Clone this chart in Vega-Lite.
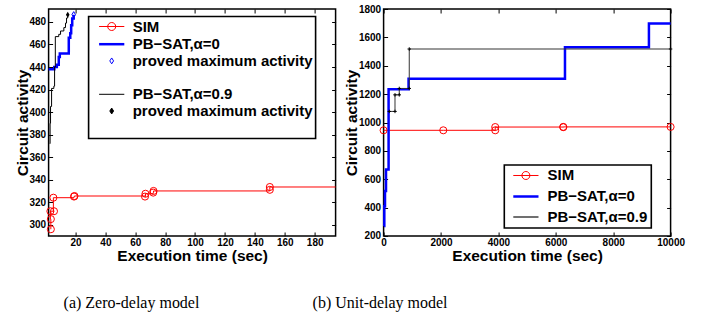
{
  "$schema": "https://vega.github.io/schema/vega-lite/v6.json",
  "background": "white",
  "padding": {"left": 14.6, "top": 3, "right": 0, "bottom": 0},
  "spacing": -27,
  "data": {"values": [
    {"p":"a","s":"SIM","i":1,"t":3.5,"v":296,"mk":1},
    {"p":"a","s":"SIM","i":2,"t":3.5,"v":305,"mk":1},
    {"p":"a","s":"SIM","i":3,"t":3.2,"v":312,"mk":1},
    {"p":"a","s":"SIM","i":4,"t":5.6,"v":312,"mk":1},
    {"p":"a","s":"SIM","i":5,"t":5.2,"v":324,"mk":1},
    {"p":"a","s":"SIM","i":6,"t":19,"v":325,"mk":1},
    {"p":"a","s":"SIM","i":7,"t":19.3,"v":325.5,"mk":1},
    {"p":"a","s":"SIM","i":8,"t":66.5,"v":325,"mk":1},
    {"p":"a","s":"SIM","i":9,"t":66.8,"v":327.5,"mk":1},
    {"p":"a","s":"SIM","i":10,"t":72,"v":328.5,"mk":1},
    {"p":"a","s":"SIM","i":11,"t":72.2,"v":330,"mk":1},
    {"p":"a","s":"SIM","i":12,"t":150,"v":331,"mk":1},
    {"p":"a","s":"SIM","i":13,"t":150,"v":333.5,"mk":1},
    {"p":"a","s":"SIM","i":14,"t":194,"v":333.5,"mk":0},
    {"p":"a","s":"PB0","i":1,"t":2,"v":438,"mk":0},
    {"p":"a","s":"PB0","i":2,"t":5.8,"v":440,"mk":0},
    {"p":"a","s":"PB0","i":3,"t":7.5,"v":442,"mk":0},
    {"p":"a","s":"PB0","i":4,"t":8.8,"v":449,"mk":0},
    {"p":"a","s":"PB0","i":5,"t":9.5,"v":452,"mk":0},
    {"p":"a","s":"PB0","i":6,"t":15.5,"v":466,"mk":0},
    {"p":"a","s":"PB0","i":7,"t":16.5,"v":470,"mk":0},
    {"p":"a","s":"PB0","i":8,"t":17.1,"v":477,"mk":0},
    {"p":"a","s":"PB0","i":9,"t":17.8,"v":483,"mk":0},
    {"p":"a","s":"PB0","i":10,"t":18.8,"v":486.5,"mk":0},
    {"p":"a","s":"PM0","i":1,"t":18.8,"v":486.5,"mk":1},
    {"p":"a","s":"PB9","i":1,"t":2.8,"v":372,"mk":0},
    {"p":"a","s":"PB9","i":2,"t":3.0,"v":390,"mk":0},
    {"p":"a","s":"PB9","i":3,"t":3.3,"v":405,"mk":0},
    {"p":"a","s":"PB9","i":4,"t":4.0,"v":421,"mk":0},
    {"p":"a","s":"PB9","i":5,"t":5.5,"v":423,"mk":0},
    {"p":"a","s":"PB9","i":6,"t":6.0,"v":440,"mk":0},
    {"p":"a","s":"PB9","i":7,"t":6.5,"v":467,"mk":0},
    {"p":"a","s":"PB9","i":8,"t":8.8,"v":469,"mk":0},
    {"p":"a","s":"PB9","i":9,"t":10,"v":472,"mk":0},
    {"p":"a","s":"PB9","i":10,"t":12.2,"v":475,"mk":0},
    {"p":"a","s":"PB9","i":11,"t":13.3,"v":479,"mk":0},
    {"p":"a","s":"PB9","i":12,"t":14.0,"v":483.5,"mk":0},
    {"p":"a","s":"PB9","i":13,"t":14.8,"v":486.5,"mk":0},
    {"p":"a","s":"PM9","i":1,"t":14.8,"v":486.5,"mk":1},
    {"p":"b","s":"SIM","i":1,"t":0,"v":945,"mk":1},
    {"p":"b","s":"SIM","i":2,"t":2080,"v":945,"mk":1},
    {"p":"b","s":"SIM","i":3,"t":3890,"v":945,"mk":1},
    {"p":"b","s":"SIM","i":4,"t":3890,"v":968,"mk":1},
    {"p":"b","s":"SIM","i":5,"t":6260,"v":967,"mk":1},
    {"p":"b","s":"SIM","i":6,"t":6260,"v":969,"mk":1},
    {"p":"b","s":"SIM","i":7,"t":10000,"v":969,"mk":1},
    {"p":"b","s":"PB0","i":1,"t":10,"v":270,"mk":0},
    {"p":"b","s":"PB0","i":2,"t":25,"v":410,"mk":0},
    {"p":"b","s":"PB0","i":3,"t":49,"v":517,"mk":0},
    {"p":"b","s":"PB0","i":4,"t":84,"v":669,"mk":0},
    {"p":"b","s":"PB0","i":5,"t":174,"v":1234,"mk":0},
    {"p":"b","s":"PB0","i":6,"t":870,"v":1308,"mk":0},
    {"p":"b","s":"PB0","i":7,"t":6320,"v":1530,"mk":0},
    {"p":"b","s":"PB0","i":8,"t":9245,"v":1697,"mk":0},
    {"p":"b","s":"PB0","i":9,"t":10000,"v":1697,"mk":0},
    {"p":"b","s":"PB9","i":1,"t":198,"v":1078,"mk":1},
    {"p":"b","s":"PB9","i":2,"t":397,"v":1078,"mk":1},
    {"p":"b","s":"PB9","i":3,"t":397,"v":1195,"mk":1},
    {"p":"b","s":"PB9","i":4,"t":546,"v":1195,"mk":1},
    {"p":"b","s":"PB9","i":5,"t":546,"v":1240,"mk":1},
    {"p":"b","s":"PB9","i":6,"t":894,"v":1240,"mk":1},
    {"p":"b","s":"PB9","i":7,"t":894,"v":1518,"mk":1},
    {"p":"b","s":"PB9","i":8,"t":10000,"v":1518,"mk":1}
  ]},
  "hconcat": [
    {
      "width": 287,
      "height": 227,
      "title": {"text": "(a) Zero-delay model", "orient": "bottom", "anchor": "start", "frame": "group", "dx": 15, "offset": 31, "font": "Liberation Serif", "fontSize": 16, "fontWeight": "normal", "color": "#000"},
      "resolve": {"axis": {"x": "independent", "y": "independent"}},
      "layer": [
        {
          "transform": [{"filter": "datum.p === 'a' && datum.s === 'SIM'"}],
          "mark": {"type": "line", "color": "#ff0000", "strokeWidth": 1, "interpolate": "step-after"},
          "encoding": {
            "x": {"field": "t", "type": "quantitative", "scale": {"domain": [2, 194], "nice": false, "zero": false},
                  "axis": {"orient": "bottom", "values": [20,40,60,80,100,120,140,160,180], "format": "d", "title": "Execution time (sec)", "labelPadding": 5.5, "titlePadding": 1}},
            "y": {"field": "v", "type": "quantitative", "scale": {"domain": [290, 491.5], "nice": false, "zero": false},
                  "axis": {"orient": "left", "values": [300,320,340,360,380,400,420,440,460,480], "format": "d", "title": "Circuit activity"}},
            "order": {"field": "i"}
          }
        },
        {
          "transform": [{"filter": "datum.p === 'a' && datum.s === 'SIM' && datum.mk === 1"}],
          "mark": {"type": "point", "shape": "circle", "size": 50, "color": "#ff0000", "strokeWidth": 1, "filled": false, "opacity": 1},
          "encoding": {
            "x": {"field": "t", "type": "quantitative", "axis": null},
            "y": {"field": "v", "type": "quantitative", "axis": null}
          }
        },
        {
          "transform": [{"filter": "datum.p === 'a' && datum.s === 'PB0'"}],
          "mark": {"type": "line", "color": "#0000ff", "strokeWidth": 2.5, "interpolate": "step-after"},
          "encoding": {
            "x": {"field": "t", "type": "quantitative", "axis": {"orient": "top", "values": [20,40,60,80,100,120,140,160,180], "labels": false, "title": null}},
            "y": {"field": "v", "type": "quantitative", "axis": {"orient": "right", "values": [300,320,340,360,380,400,420,440,460,480], "labels": false, "title": null}},
            "order": {"field": "i"}
          }
        },
        {
          "transform": [{"filter": "datum.p === 'a' && datum.s === 'PM0'"}],
          "mark": {"type": "point", "shape": "M0,-1L0.6,0L0,1L-0.6,0Z", "size": 36, "color": "#0000ff", "strokeWidth": 1, "filled": false, "opacity": 1},
          "encoding": {
            "x": {"field": "t", "type": "quantitative", "axis": null},
            "y": {"field": "v", "type": "quantitative", "axis": null}
          }
        },
        {
          "transform": [{"filter": "datum.p === 'a' && datum.s === 'PB9'"}],
          "mark": {"type": "line", "color": "#000000", "strokeWidth": 1, "interpolate": "step-after"},
          "encoding": {
            "x": {"field": "t", "type": "quantitative", "axis": null},
            "y": {"field": "v", "type": "quantitative", "axis": null},
            "order": {"field": "i"}
          }
        },
        {
          "transform": [{"filter": "datum.p === 'a' && datum.s === 'PM9'"}],
          "mark": {"type": "point", "shape": "M0,-1L0.6,0L0,1L-0.6,0Z", "size": 36, "color": "#000000", "strokeWidth": 1, "filled": true, "opacity": 1},
          "encoding": {
            "x": {"field": "t", "type": "quantitative", "axis": null},
            "y": {"field": "v", "type": "quantitative", "axis": null}
          }
        },
        {
          "transform": [{"filter": "false"}],
          "mark": {"type": "point", "opacity": 1, "size": 196},
          "encoding": {
            "shape": {"field": "s", "type": "nominal",
              "scale": {"domain": ["SIM","PB0","PM0","GAP","PB9","PM9","END"],
                        "range": ["M-1,0H2.6M0.23,0A0.57,0.57,0,1,1,1.37,0A0.57,0.57,0,1,1,0.23,0","M-1,0H2.6","M0.8,-0.42L1.07,0L0.8,0.42L0.53,0Z","M0,0","M-1,0H2.6","M0.8,-0.42L1.07,0L0.8,0.42L0.53,0Z","M0,0"]},
              "legend": {"title": null, "orient": "none", "legendX": 40, "legendY": 7.5, "padding": 2.5, "rowPadding": 0.7, "symbolOffset": 6.5, "labelOffset": 18.1, "symbolSize": 196,
                         "encoding": {"legend": {"strokeWidth": {"value": 1.6}}},
                         "labelExpr": "{'SIM':'SIM','PB0':'PB−SAT,α=0','PM0':'proved maximum activity','GAP':' ','PB9':'PB−SAT,α=0.9','PM9':'proved maximum activity','END':''}[datum.label]"}},
            "stroke": {"field": "s", "type": "nominal",
              "scale": {"domain": ["SIM","PB0","PM0","GAP","PB9","PM9","END"], "range": ["#ff0000","#0000ff","#0000ff","transparent","#000000","#000000","transparent"]},
              "legend": {"title": null, "orient": "none", "legendX": 40, "legendY": 7.5, "padding": 2.5, "rowPadding": 0.7, "symbolOffset": 6.5, "labelOffset": 18.1, "symbolSize": 196,
                         "encoding": {"legend": {"strokeWidth": {"value": 1.6}}},
                         "labelExpr": "{'SIM':'SIM','PB0':'PB−SAT,α=0','PM0':'proved maximum activity','GAP':' ','PB9':'PB−SAT,α=0.9','PM9':'proved maximum activity','END':''}[datum.label]"}},
            "fill": {"field": "s", "type": "nominal",
              "scale": {"domain": ["SIM","PB0","PM0","GAP","PB9","PM9","END"], "range": ["transparent","transparent","transparent","transparent","transparent","#000000","transparent"]},
              "legend": {"title": null, "orient": "none", "legendX": 40, "legendY": 7.5, "padding": 2.5, "rowPadding": 0.7, "symbolOffset": 6.5, "labelOffset": 18.1, "symbolSize": 196,
                         "encoding": {"legend": {"strokeWidth": {"value": 1.6}}},
                         "labelExpr": "{'SIM':'SIM','PB0':'PB−SAT,α=0','PM0':'proved maximum activity','GAP':' ','PB9':'PB−SAT,α=0.9','PM9':'proved maximum activity','END':''}[datum.label]"}},
            "strokeWidth": {"field": "s", "type": "nominal",
              "scale": {"type": "ordinal", "domain": ["SIM","PB0","PM0","GAP","PB9","PM9","END"], "range": [1,2.5,1,0,1,1,0]},
              "legend": {"title": null, "orient": "none", "legendX": 40, "legendY": 7.5, "padding": 2.5, "rowPadding": 0.7, "symbolOffset": 6.5, "labelOffset": 18.1, "symbolSize": 196,
                         "encoding": {"legend": {"strokeWidth": {"value": 1.6}}},
                         "labelExpr": "{'SIM':'SIM','PB0':'PB−SAT,α=0','PM0':'proved maximum activity','GAP':' ','PB9':'PB−SAT,α=0.9','PM9':'proved maximum activity','END':''}[datum.label]"}}
          }
        }
      ]
    },
    {
      "width": 287,
      "height": 227,
      "title": {"text": "(b) Unit-delay model", "orient": "bottom", "anchor": "start", "frame": "group", "dx": -71, "offset": 31, "font": "Liberation Serif", "fontSize": 16, "fontWeight": "normal", "color": "#000"},
      "resolve": {"axis": {"x": "independent", "y": "independent"}},
      "layer": [
        {
          "transform": [{"filter": "datum.p === 'b' && datum.s === 'SIM'"}],
          "mark": {"type": "line", "color": "#ff0000", "strokeWidth": 1, "interpolate": "step-after"},
          "encoding": {
            "x": {"field": "t", "type": "quantitative", "scale": {"domain": [0, 10000], "nice": false, "zero": false},
                  "axis": {"orient": "bottom", "values": [0,2000,4000,6000,8000,10000], "format": "d", "title": "Execution time (sec)", "labelPadding": 5.5, "titlePadding": 1}},
            "y": {"field": "v", "type": "quantitative", "scale": {"domain": [200, 1800], "nice": false, "zero": false},
                  "axis": {"orient": "left", "values": [200,400,600,800,1000,1200,1400,1600,1800], "format": "d", "title": "Circuit activity"}},
            "order": {"field": "i"}
          }
        },
        {
          "transform": [{"filter": "datum.p === 'b' && datum.s === 'SIM' && datum.mk === 1"}],
          "mark": {"type": "point", "shape": "circle", "size": 50, "color": "#ff0000", "strokeWidth": 1, "filled": false, "opacity": 1},
          "encoding": {
            "x": {"field": "t", "type": "quantitative", "axis": null},
            "y": {"field": "v", "type": "quantitative", "axis": null}
          }
        },
        {
          "transform": [{"filter": "datum.p === 'b' && datum.s === 'PB0'"}],
          "mark": {"type": "line", "color": "#0000ff", "strokeWidth": 2.5, "interpolate": "step-after"},
          "encoding": {
            "x": {"field": "t", "type": "quantitative", "axis": {"orient": "top", "values": [0,2000,4000,6000,8000,10000], "labels": false, "title": null}},
            "y": {"field": "v", "type": "quantitative", "axis": {"orient": "right", "values": [200,400,600,800,1000,1200,1400,1600,1800], "labels": false, "title": null}},
            "order": {"field": "i"}
          }
        },
        {
          "transform": [{"filter": "datum.p === 'b' && datum.s === 'PB9'"}],
          "mark": {"type": "line", "color": "#333333", "strokeWidth": 1, "interpolate": "linear"},
          "encoding": {
            "x": {"field": "t", "type": "quantitative", "axis": null},
            "y": {"field": "v", "type": "quantitative", "axis": null},
            "order": {"field": "i"}
          }
        },
        {
          "transform": [{"filter": "datum.p === 'b' && datum.s === 'PB9' && datum.mk === 1"}],
          "mark": {"type": "point", "shape": "M-1,0H1M0,-1V1", "size": 12, "color": "#000000", "strokeWidth": 1, "filled": false, "opacity": 1},
          "encoding": {
            "x": {"field": "t", "type": "quantitative", "axis": null},
            "y": {"field": "v", "type": "quantitative", "axis": null}
          }
        },
        {
          "transform": [{"filter": "false"}],
          "mark": {"type": "point", "opacity": 1, "size": 196},
          "encoding": {
            "shape": {"field": "s", "type": "nominal",
              "scale": {"domain": ["SIM","PB0","PB9"],
                        "range": ["M-1,0H2.6M0.23,0A0.57,0.57,0,1,1,1.37,0A0.57,0.57,0,1,1,0.23,0","M-1,0H2.6","M-1,0H2.6"]},
              "legend": {"title": null, "orient": "none", "legendX": 120.7, "legendY": 156, "padding": 3, "rowPadding": 4, "symbolOffset": 4.5, "labelOffset": 18.7, "symbolSize": 196,
                         "encoding": {"legend": {"strokeWidth": {"value": 1.6}}},
                         "labelExpr": "{'SIM':'SIM','PB0':'PB−SAT,α=0','PB9':'PB−SAT,α=0.9     '}[datum.label]"}},
            "stroke": {"field": "s", "type": "nominal",
              "scale": {"domain": ["SIM","PB0","PB9"], "range": ["#ff0000","#0000ff","#707070"]},
              "legend": {"title": null, "orient": "none", "legendX": 120.7, "legendY": 156, "padding": 3, "rowPadding": 4, "symbolOffset": 4.5, "labelOffset": 18.7, "symbolSize": 196,
                         "encoding": {"legend": {"strokeWidth": {"value": 1.6}}},
                         "labelExpr": "{'SIM':'SIM','PB0':'PB−SAT,α=0','PB9':'PB−SAT,α=0.9     '}[datum.label]"}},
            "fill": {"field": "s", "type": "nominal",
              "scale": {"domain": ["SIM","PB0","PB9"], "range": ["transparent","transparent","transparent"]},
              "legend": {"title": null, "orient": "none", "legendX": 120.7, "legendY": 156, "padding": 3, "rowPadding": 4, "symbolOffset": 4.5, "labelOffset": 18.7, "symbolSize": 196,
                         "encoding": {"legend": {"strokeWidth": {"value": 1.6}}},
                         "labelExpr": "{'SIM':'SIM','PB0':'PB−SAT,α=0','PB9':'PB−SAT,α=0.9     '}[datum.label]"}},
            "strokeWidth": {"field": "s", "type": "nominal",
              "scale": {"type": "ordinal", "domain": ["SIM","PB0","PB9"], "range": [1,2.5,2]},
              "legend": {"title": null, "orient": "none", "legendX": 120.7, "legendY": 156, "padding": 3, "rowPadding": 4, "symbolOffset": 4.5, "labelOffset": 18.7, "symbolSize": 196,
                         "encoding": {"legend": {"strokeWidth": {"value": 1.6}}},
                         "labelExpr": "{'SIM':'SIM','PB0':'PB−SAT,α=0','PB9':'PB−SAT,α=0.9     '}[datum.label]"}}
          }
        }
      ]
    }
  ],
  "resolve": {
    "scale": {"x": "independent", "y": "independent", "shape": "independent", "stroke": "independent", "fill": "independent", "strokeWidth": "independent"},
    "legend": {"shape": "independent", "stroke": "independent", "fill": "independent", "strokeWidth": "independent"}
  },
  "config": {
    "view": {"stroke": "#000000", "strokeWidth": 1.5},
    "axis": {"grid": false, "domain": false, "labelFont": "Liberation Sans", "labelFontWeight": "bold", "labelFontSize": 10, "labelColor": "#000000",
             "titleFont": "Liberation Sans", "titleFontWeight": "bold", "titleFontSize": 15.5, "titleColor": "#000000",
             "tickColor": "#000000", "tickSize": -4, "labelPadding": 7, "titlePadding": -1.5, "labelFlush": false, "labelOverlap": false},
    "legend": {"labelFont": "Liberation Sans", "labelFontWeight": "bold", "labelFontSize": 15, "labelColor": "#000000", "labelLimit": 400,
               "strokeColor": "#000000", "fillColor": "#ffffff"}
  }
}
